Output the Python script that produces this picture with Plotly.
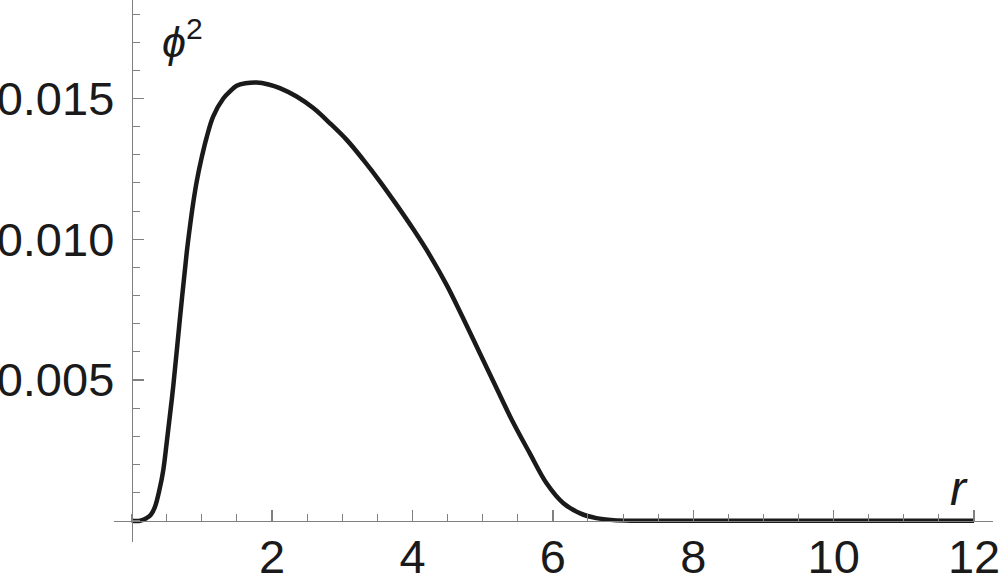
import plotly.graph_objects as go

# Data
r_vals = [0.0, 0.12, 0.21, 0.27, 0.33, 0.40, 0.45, 0.50, 0.593, 0.688, 0.783, 0.83, 0.877,
          0.926, 0.997, 1.068, 1.16, 1.305, 1.40, 1.495, 1.62, 1.78, 1.95, 2.11, 2.35,
          2.587, 2.825, 3.063, 3.30, 3.537, 3.775, 4.01, 4.25, 4.49, 4.72, 4.96, 5.20,
          5.44, 5.67, 5.91, 6.15, 6.39, 6.62, 6.86, 7.2, 8.0, 12.0]
phi2_vals = [0.0, 0.0, 0.00009, 0.0002, 0.00048, 0.00115, 0.0018, 0.0028, 0.0048, 0.0072,
             0.0095, 0.01045, 0.01130, 0.01205, 0.01290, 0.01362, 0.01436, 0.01500, 0.01525,
             0.01545, 0.01554, 0.01557, 0.01550, 0.01537, 0.01507, 0.01466, 0.01412, 0.01353,
             0.01282, 0.01205, 0.01122, 0.01036, 0.00942, 0.00836, 0.00720, 0.00595, 0.00470,
             0.00346, 0.00240, 0.00133, 0.00062, 0.00026, 0.00009, 0.00002, 0.0, 0.0, 0.0]

x_tick_vals = [2, 4, 6, 8, 10, 12]
x_tick_text = ["2", "4", "6", "8", "10", "12"]
y_tick_vals = [0.005, 0.010, 0.015]
y_tick_text = ["0.005", "0.010", "0.015"]

x_range = [-0.252, 12.27]
y_range = [-0.000757, 0.0185]

axis_color = "#808080"
text_color = "#1a1a1a"
font_family = "Liberation Sans, Arial, sans-serif"

fig = go.Figure()
fig.add_trace(go.Scatter(x=r_vals, y=phi2_vals, mode="lines",
                         line=dict(color=text_color, width=4.5, shape="spline", smoothing=1.0),
                         hoverinfo="skip", showlegend=False))

x_pos = (0 - y_range[0]) / (y_range[1] - y_range[0])
y_pos = (0 - x_range[0]) / (x_range[1] - x_range[0])

fig.update_layout(
    width=1000, height=575,
    margin=dict(l=114, r=7, t=0, b=33, pad=0),
    paper_bgcolor="white", plot_bgcolor="white",
    font=dict(family=font_family, color=text_color),
    xaxis=dict(range=x_range, anchor="free", position=x_pos, automargin=False,
               showgrid=False, zeroline=False, showline=True, linecolor=axis_color, linewidth=1.5,
               tickmode="array", tickvals=x_tick_vals, ticktext=x_tick_text,
               ticks="inside", ticklen=11, tickwidth=1.3, tickcolor=axis_color,
               tickfont=dict(size=47, family=font_family, color=text_color),
               ticklabelstandoff=-6, ticklabeloverflow="allow",
               minor=dict(tickmode="linear", tick0=0, dtick=0.5, ticks="inside", ticklen=7,
                          tickwidth=1, tickcolor=axis_color, showgrid=False),
               fixedrange=True),
    yaxis=dict(range=y_range, anchor="free", position=y_pos, automargin=False,
               showgrid=False, zeroline=False, showline=True, linecolor=axis_color, linewidth=1.5,
               tickmode="array", tickvals=y_tick_vals, ticktext=y_tick_text,
               ticks="inside", ticklen=11, tickwidth=1.3, tickcolor=axis_color,
               tickfont=dict(size=47, family=font_family, color=text_color),
               ticklabelstandoff=8, ticklabeloverflow="allow",
               minor=dict(tickmode="linear", tick0=0, dtick=0.001, ticks="inside", ticklen=7,
                          tickwidth=1, tickcolor=axis_color, showgrid=False),
               fixedrange=True),
    annotations=[
        dict(x=0.40, y=0.01710, xref="x", yref="y", xanchor="left", yanchor="middle",
             text="<i>ϕ</i><sup>2</sup>", showarrow=False,
             font=dict(size=43, family=font_family, color=text_color)),
        dict(x=11.79, y=0.00116, xref="x", yref="y", xanchor="center", yanchor="middle",
             text="<i>r</i>", showarrow=False,
             font=dict(size=48, family=font_family, color=text_color)),
    ],
)

fig.write_html("out.html", config={"displayModeBar": False, "staticPlot": True},
               post_script="document.body.style.margin='0';document.body.style.padding='0';")
